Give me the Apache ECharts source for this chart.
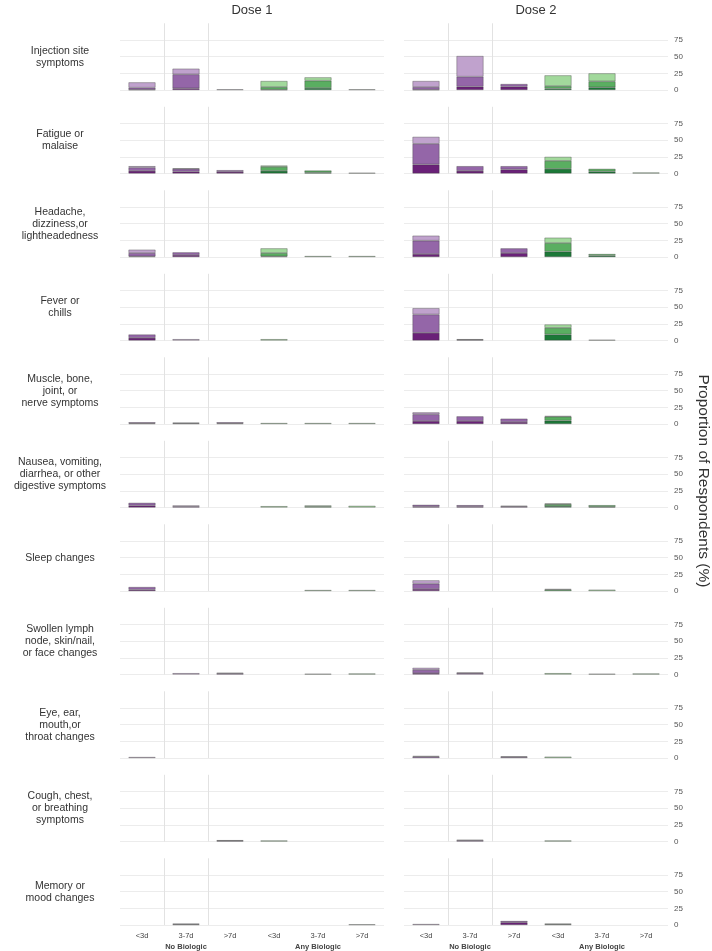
<!DOCTYPE html>
<html>
<head>
<meta charset="utf-8">
<script src="https://cdn.jsdelivr.net/npm/echarts@6/dist/echarts.min.js"></script>
<style>
  html, body { margin: 0; padding: 0; background: #ffffff; }
  #chart { width: 712px; height: 951px; }
</style>
</head>
<body>
<div id="chart"></div>
<script>
// ---- data -------------------------------------------------------------
const doses = ['Dose 1', 'Dose 2'];

const symptoms = [
  'Injection site\nsymptoms',
  'Fatigue or\nmalaise',
  'Headache,\ndizziness,or\nlightheadedness',
  'Fever or\nchills',
  'Muscle, bone,\njoint, or\nnerve symptoms',
  'Nausea, vomiting,\ndiarrhea, or other\ndigestive symptoms',
  'Sleep changes',
  'Swollen lymph\nnode, skin/nail,\nor face changes',
  'Eye, ear,\nmouth,or\nthroat changes',
  'Cough, chest,\nor breathing\nsymptoms',
  'Memory or\nmood changes'
];

const categories = [
  'No Biologic <3d', 'No Biologic 3-7d', 'No Biologic >7d',
  'Any Biologic <3d', 'Any Biologic 3-7d', 'Any Biologic >7d'
];
const timeLabels = ['<3d', '3-7d', '>7d', '<3d', '3-7d', '>7d'];
const groupLabels = ['No Biologic', 'Any Biologic'];
const yTicks = [0, 25, 50, 75];
const yTitle = 'Proportion of Respondents (%)';

// proportion (%) per symptom row; columns follow `categories`
const dose1Severe = [
  [0.5, 2.5, 0, 0.5, 3, 0],
  [4, 3, 2.5, 4, 1.5, 0],
  [1, 3, 0, 1, 0, 0],
  [4, 0, 0, 0, 0, 0],
  [1, 0, 1, 0, 0, 0],
  [3, 0, 0, 0, 0, 0],
  [2, 0, 0, 0, 0, 0],
  [0, 0, 0, 0, 0, 0],
  [0, 0, 0, 0, 0, 0],
  [0, 0, 0, 0, 0, 0],
  [0, 0, 0, 0, 0, 0]
];
const dose1Moderate = [
  [3, 21, 0, 4, 11, 0],
  [5, 4, 2.5, 6, 3, 0],
  [5, 4, 0, 5, 0, 0],
  [5, 0, 0, 0, 0, 0],
  [1.5, 1, 1.5, 0, 0, 0],
  [4, 1.5, 0, 0, 1.5, 0],
  [4, 0, 0, 0, 0, 0],
  [0, 0, 1.5, 0, 0, 0],
  [0, 0, 0, 0, 0, 0],
  [0, 0, 1, 0, 0, 0],
  [0, 1, 0, 0, 0, 0]
];
const dose1Mild = [
  [8, 8.5, 1, 9, 5, 1],
  [2, 0.5, 0, 2, 0, 1],
  [5, 0, 0, 7, 1.5, 1.5],
  [0, 2, 0, 2, 0, 0],
  [0, 1, 0, 1.5, 1.5, 1.5],
  [0, 1.5, 0, 2, 1.5, 2.5],
  [0, 0, 0, 0, 1.5, 1.5],
  [0, 2, 1, 0, 1, 1.5],
  [1.5, 0, 0, 0, 0, 0],
  [0, 0, 1, 1.5, 0, 0],
  [0, 1, 0, 0, 0, 1]
];

const dose2Severe = [
  [0.5, 5, 5, 2, 4, 0],
  [13.5, 4, 6, 7, 3, 0],
  [4.5, 0, 6, 8, 2, 0],
  [11.5, 0, 0, 9, 0, 0],
  [4.5, 4.5, 3, 5, 0, 0],
  [1.5, 1.5, 0, 2, 1, 0],
  [3, 0, 0, 0, 0, 0],
  [2, 0, 0, 0, 0, 0],
  [0, 0, 0, 0, 0, 0],
  [0, 0, 0, 0, 0, 0],
  [0, 0, 4, 0, 0, 0]
];
const dose2Moderate = [
  [4, 15, 4, 4, 9, 0],
  [31, 7, 5, 12, 4, 0],
  [20, 0, 7, 13, 2.5, 0],
  [27.5, 1, 0, 10, 0, 0],
  [10, 7, 5, 6, 0, 0],
  [2.5, 2, 1.5, 3, 2.5, 0],
  [8, 0, 0, 2, 0, 0],
  [5, 2, 0, 0, 0, 0],
  [2, 0, 1.5, 0, 0, 0],
  [0, 1.5, 0, 0, 0, 0],
  [0, 0, 2, 1, 0, 0]
];
const dose2Mild = [
  [9, 31, 0, 16, 12, 0],
  [10.5, 0, 0, 6, 0, 1.5],
  [7.5, 0, 0, 8, 0, 0],
  [9.5, 1, 0, 5, 1, 0],
  [3, 0, 0, 1, 0, 0],
  [0, 0, 1, 1, 0, 0],
  [5, 0, 0, 1, 2, 0],
  [3, 1, 0, 2, 1, 1.5],
  [1, 0, 1, 2, 0, 0],
  [0, 1, 0, 1.5, 0, 0],
  [1.5, 0, 0, 1, 0, 0]
];

// ---- styling ------------------------------------------------------------
const doseData = [
  [dose1Severe, dose1Moderate, dose1Mild],
  [dose2Severe, dose2Moderate, dose2Mild]
];
const levelNames = ['Severe', 'Moderate', 'Mild'];
const purpleShades = ['#6a2178', '#9466a8', '#c0a2cd'];
const greenShades = ['#1b7837', '#5aae61', '#a2d99c'];

const FONT = '"Liberation Sans", Arial, Helvetica, sans-serif';
const panelLeft = [120, 404];
const panelWidth = 264;
const firstBaseline = 90;
const rowStep = 83.5;
const panelHeight = 66.7;   // 0..100 on the value axis

// only the two boundaries inside the "No Biologic" block carry a vertical rule
const NONE = 'rgba(0,0,0,0)';
const vRuleColors = [NONE, '#e2e2e2', '#e2e2e2', NONE, NONE, NONE, NONE];

const grids = [], xAxes = [], yAxes = [], series = [];

symptoms.forEach((name, r) => {
  const baseline = firstBaseline + r * rowStep;
  const lastRow = r === symptoms.length - 1;
  doses.forEach((dose, d) => {
    const g = grids.length;
    grids.push({
      left: panelLeft[d],
      top: baseline - panelHeight,
      width: panelWidth,
      height: panelHeight,
      containLabel: false,
      outerBoundsMode: 'none'
    });
    xAxes.push({
      type: 'category',
      gridIndex: g,
      data: categories,
      axisLine: { show: false },
      axisTick: { show: false },
      splitLine: {
        show: true,
        interval: 0,
        lineStyle: { color: vRuleColors, width: 1 }
      },
      axisLabel: {
        show: lastRow,
        interval: 0,
        margin: 5,
        formatter: (value, i) => {
          const t = '{t|' + timeLabels[i] + '}';
          if (i === 1) return t + '\n{g|' + groupLabels[0] + '}';
          if (i === 4) return t + '\n{g|' + groupLabels[1] + '}';
          return t;
        },
        rich: {
          t: { fontSize: 7.5, fontFamily: FONT, color: '#444', lineHeight: 11 },
          g: { fontSize: 7.5, fontFamily: FONT, color: '#444', fontWeight: 'bold', lineHeight: 11 }
        }
      }
    });
    yAxes.push({
      type: 'value',
      gridIndex: g,
      position: 'right',
      min: 0,
      max: 100,
      interval: 25,
      axisLine: { show: false },
      axisTick: { show: false },
      axisLabel: {
        show: d === 1,
        margin: 6,
        fontSize: 8,
        fontFamily: FONT,
        color: '#555',
        formatter: (v) => (yTicks.indexOf(v) >= 0 ? String(v) : '')
      },
      splitLine: {
        show: true,
        showMaxLine: false,
        lineStyle: { color: '#ececec', width: 1 }
      }
    });
    levelNames.forEach((lvl, k) => {
      series.push({
        name: lvl,
        type: 'bar',
        xAxisIndex: g,
        yAxisIndex: g,
        stack: 'panel' + g,
        barWidth: 27,
        silent: true,
        data: doseData[d][k][r].map(v => (v > 0 ? v : '-')),
        itemStyle: {
          color: (p) => (p.dataIndex < 3 ? purpleShades[k] : greenShades[k]),
          borderColor: 'rgba(55,55,55,0.6)',
          borderWidth: 0.6
        }
      });
    });
  });
});

// facet titles, row labels and the shared value-axis title
const graphics = [];
doses.forEach((dose, d) => {
  graphics.push({
    type: 'text',
    x: panelLeft[d] + panelWidth / 2,
    y: 10,
    style: {
      text: dose, fontSize: 13, fontFamily: FONT, fill: '#333',
      align: 'center', verticalAlign: 'middle'
    }
  });
});
symptoms.forEach((name, r) => {
  const baseline = firstBaseline + r * rowStep;
  graphics.push({
    type: 'text',
    x: 60,
    y: baseline - panelHeight / 2,
    style: {
      text: name, fontSize: 10.5, lineHeight: 12, fontFamily: FONT, fill: '#333',
      align: 'center', verticalAlign: 'middle'
    }
  });
});
graphics.push({
  type: 'text',
  x: 703,
  y: 481,
  rotation: -Math.PI / 2,
  style: {
    text: yTitle, fontSize: 15.5, fontFamily: FONT, fill: '#333',
    align: 'center', verticalAlign: 'middle'
  }
});

const chart = echarts.init(document.getElementById('chart'), null, { renderer: 'canvas' });
chart.setOption({
  animation: false,
  backgroundColor: '#ffffff',
  grid: grids,
  xAxis: xAxes,
  yAxis: yAxes,
  series: series,
  graphic: graphics
});
</script>
</body>
</html>
